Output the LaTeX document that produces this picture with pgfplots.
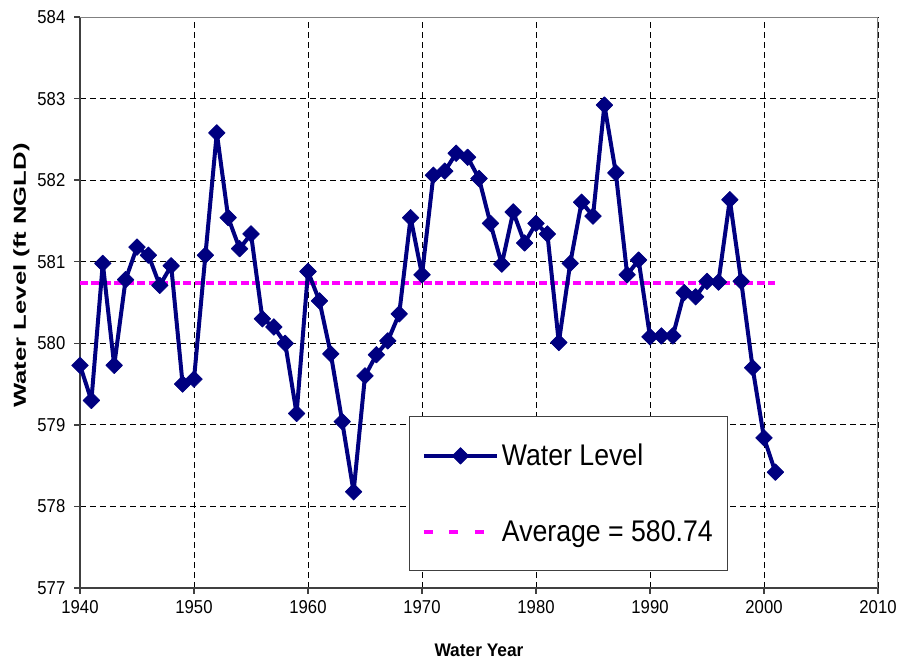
\documentclass[border=0pt]{standalone}
\usepackage{fontspec}
\setmainfont{Liberation Sans}
\usepackage{pgfplots}
\pgfplotsset{compat=1.18}
\definecolor{navyc}{HTML}{000080}
\definecolor{magc}{HTML}{FF00FF}
\definecolor{frameA}{HTML}{404040}
\definecolor{frameB}{HTML}{808080}
\begin{document}
\begin{tikzpicture}
\begin{axis}[
  at={(0,0)}, anchor=south west,
  scale only axis, width=598.5pt, height=428.25pt,
  xmin=1940, xmax=2010, ymin=577, ymax=584,
  xtick={1940,1950,...,2010}, ytick={577,578,...,584},
  axis x line*=bottom, axis y line*=left,
  axis line style={-, draw=frameA, line width=1.5pt},
  tick align=outside, major tick length=4.5pt,
  tick style={frameA, line width=1pt},
  grid=major,
  major grid style={black, dash pattern=on 4.5pt off 3pt, line width=0.6pt},
  /pgf/number format/assume math mode=true,
  /pgf/number format/1000 sep={},
  ticklabel style={font=\fontsize{12.5}{15}\selectfont},
  xticklabel={\scalebox{1}[1.12]{\pgfmathprintnumber{\tick}}},
  yticklabel={\scalebox{1}[1.12]{\pgfmathprintnumber{\tick}}},
  yticklabel style={xshift=-3pt},
  xticklabel style={yshift=-1.5pt},
  reverse legend,
  legend style={at={(rel axis cs:0.4123,0.3012)}, anchor=north west,
    draw=frameA, line width=1pt, fill=white,
    font=\fontsize{20}{24}\selectfont,
    inner xsep=9pt, inner ysep=18.5pt, row sep=35.5pt,
    cells={anchor=west}},
  legend image code/.code={\draw[mark repeat=2,mark phase=2,#1] plot coordinates {(0pt,0pt) (27.5pt,0pt) (55pt,0pt)};},
]
\addplot[magc, line width=3.2pt, dash pattern=on 6pt off 2.6pt,
  legend image code/.code={\draw[magc, line width=3.2pt, dash pattern=on 6.75pt off 12.4pt] (0pt,0pt) -- (55pt,0pt);}]
  coordinates {(1940,580.74) (2001,580.74)};
\addlegendentry{\scalebox{1}[1.12]{Average = 580.74}}
\addplot[navyc, line width=3pt, line join=round, mark=square*, mark size=4.4pt,
  mark options={rotate=45, solid, fill=navyc, line width=0.5pt}]
  coordinates {
(1940,579.73) (1941,579.30) (1942,580.98) (1943,579.73) (1944,580.78)
(1945,581.18) (1946,581.08) (1947,580.71) (1948,580.95) (1949,579.50)
(1950,579.56) (1951,581.08) (1952,582.58) (1953,581.54) (1954,581.16)
(1955,581.34) (1956,580.30) (1957,580.20) (1958,580.00) (1959,579.14)
(1960,580.88) (1961,580.52) (1962,579.87) (1963,579.04) (1964,578.18)
(1965,579.60) (1966,579.86) (1967,580.03) (1968,580.36) (1969,581.54)
(1970,580.84) (1971,582.06) (1972,582.11) (1973,582.33) (1974,582.28)
(1975,582.02) (1976,581.47) (1977,580.97) (1978,581.61) (1979,581.23)
(1980,581.47) (1981,581.34) (1982,580.01) (1983,580.98) (1984,581.73)
(1985,581.56) (1986,582.92) (1987,582.09) (1988,580.84) (1989,581.02)
(1990,580.08) (1991,580.09) (1992,580.09) (1993,580.62) (1994,580.57)
(1995,580.76) (1996,580.75) (1997,581.76) (1998,580.76) (1999,579.70)
(2000,578.84) (2001,578.42)
  };
\addlegendentry{\scalebox{1}[1.12]{Water Level}}
\draw[frameB, line width=1.2pt] (rel axis cs:0,1) -- (rel axis cs:1,1) -- (rel axis cs:1,0);
\end{axis}
\node[rotate=90, font=\bfseries\fontsize{13}{15}\selectfont] at (-44pt,234.4pt) {\scalebox{1.48}[1]{Water Level (ft NGLD)}};
\node[font=\bfseries\fontsize{13}{15}\selectfont] at (299.25pt,-46.5pt) {\scalebox{1}[1.05]{Water Year}};
\pgfresetboundingbox
\path[use as bounding box] (-60pt,-54pt) rectangle (616.5pt,441pt);
\end{tikzpicture}
\end{document}
